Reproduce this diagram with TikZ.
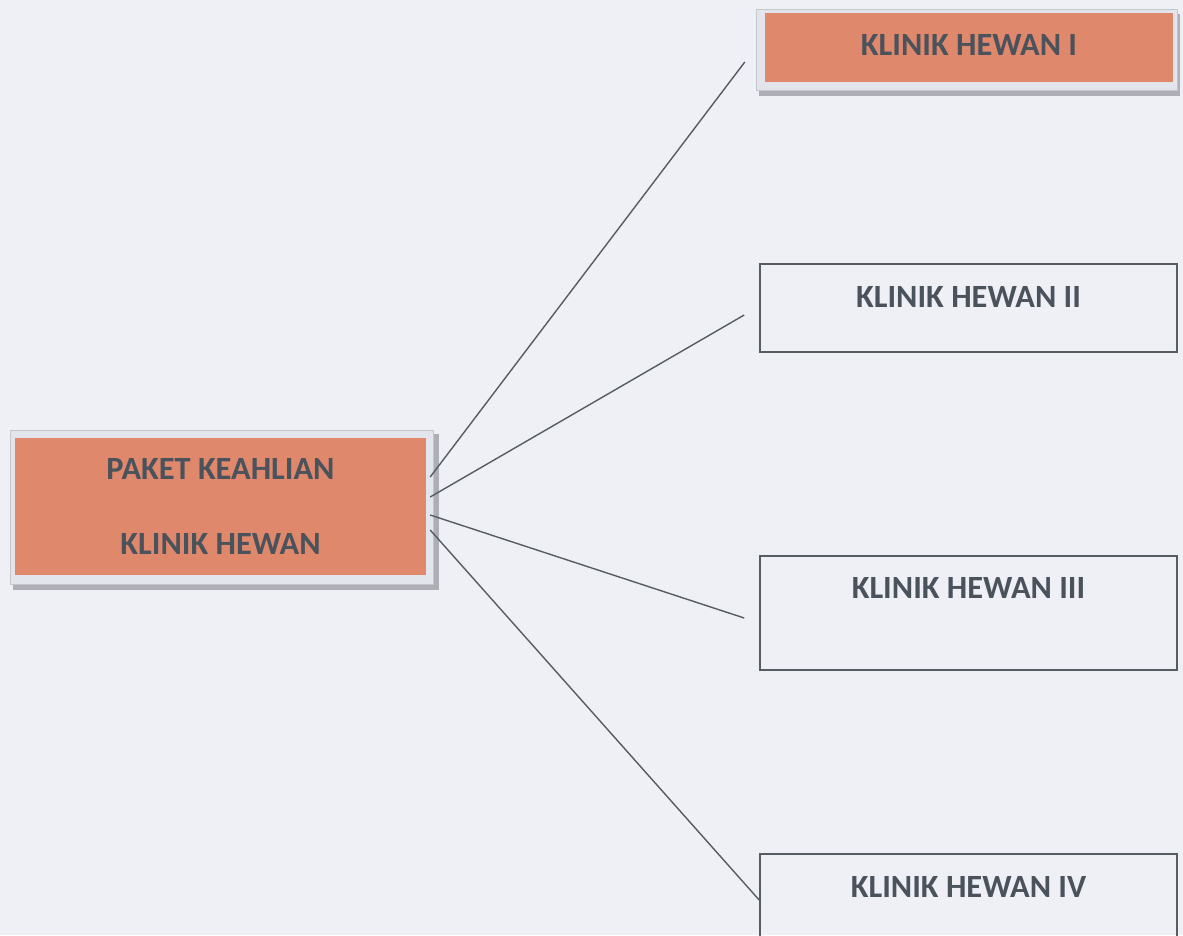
\documentclass[tikz,border=0pt]{standalone}
\usepackage{fontspec}
\setmainfont{Carlito}
\definecolor{bg}{HTML}{EEF0F6}
\definecolor{orangefill}{HTML}{E0886C}
\definecolor{txt}{HTML}{4A525C}
\definecolor{edge}{HTML}{555C64}
\definecolor{framefill}{HTML}{E3E5EC}
\definecolor{frameline}{HTML}{C4C6CE}
\definecolor{shadowc}{HTML}{AEAEB6}
\tikzset{
  lbl/.style={font=\fontsize{32.4}{75}\selectfont\bfseries, text=txt},
  orangebox/.style={lbl, rectangle, fill=orangefill, inner sep=0pt, align=center},
  whitebox/.style={lbl, rectangle, draw=edge, line width=1.6pt, inner sep=0pt, align=center},
  conn/.style={draw=edge, line width=1.4pt}
}
\begin{document}
\begin{tikzpicture}[x=1pt,y=-1pt]
\useasboundingbox (0,0) rectangle (1183,935);
\fill[bg] (0,0) rectangle (1183,935);
\begin{scope}
\clip (0,0) rectangle (1183,935);
% framed orange boxes
\fill[shadowc] (13,434) rectangle (439,590);
\filldraw[fill=framefill, draw=frameline, line width=0.8pt] (10,430) rectangle (433,584);
\node[orangebox, minimum width=411pt, minimum height=137pt] (main) at (220.5,506.5)
  {PAKET KEAHLIAN\\KLINIK HEWAN};
\fill[shadowc] (759,14) rectangle (1180,96);
\filldraw[fill=framefill, draw=frameline, line width=0.8pt] (756,9) rectangle (1177,90);
\node[orangebox, minimum width=408pt, minimum height=69pt, text height=42pt, text depth=27pt] (k1) at (969,47.5) {KLINIK HEWAN I};
% white boxes
\node[whitebox, minimum width=417pt, minimum height=88pt, text height=43pt, text depth=45pt] (k2) at (968.5,308) {KLINIK HEWAN II};
\node[whitebox, minimum width=417pt, minimum height=114pt, text height=42pt, text depth=72pt] (k3) at (968.5,613) {KLINIK HEWAN III};
\node[whitebox, minimum width=417pt, minimum height=114pt, text height=43pt, text depth=71pt] (k4) at (968.5,911) {KLINIK HEWAN IV};
% connectors
\draw[conn] ([shift={(4,-29.5)}]main.east) -- ([shift={(-20,14.5)}]k1.west);
\draw[conn] ([shift={(4,-9.5)}]main.east) -- ([shift={(-15,7)}]k2.west);
\draw[conn] ([shift={(4,8.5)}]main.east) -- ([shift={(-15,5)}]k3.west);
\draw[conn] ([shift={(4,23.5)}]main.east) -- ([shift={(0,-11)}]k4.west);
\end{scope}
\end{tikzpicture}
\end{document}
